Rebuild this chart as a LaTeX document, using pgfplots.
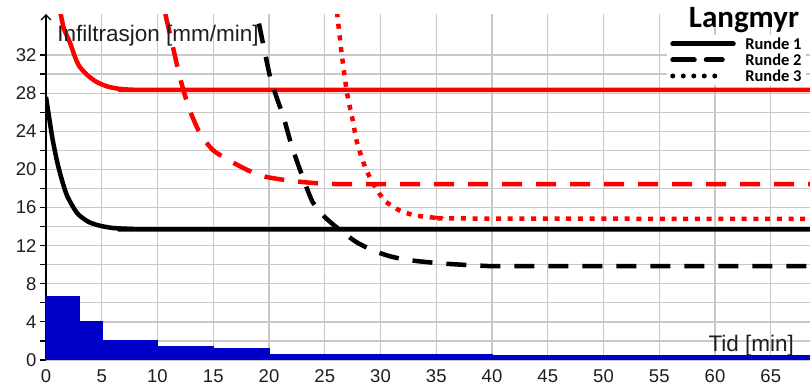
\documentclass[border=0pt]{standalone}
\usepackage{pgfplots}
\pgfplotsset{compat=1.18}
\usepackage{fontspec}
\setmainfont{Liberation Sans}
\newfontfamily\carlito{Carlito}
\usetikzlibrary{arrows.meta}
\definecolor{gridgray}{RGB}{200,200,200}
\definecolor{barblue}{RGB}{0,0,200}
\definecolor{labelgray}{RGB}{30,30,30}

\begin{document}
\begin{tikzpicture}
\begin{axis}[
  x=11.15pt, y=9.53pt,
  xmin=0, xmax=68.7, ymin=0, ymax=36.3,
  axis x line*=bottom, axis y line=left,
  x axis line style={draw=none},
  y axis line style={line width=1.3pt, -{Straight Barb[length=5pt,width=10pt]}},
  xtick={0,5,...,65}, ytick={0,4,...,32}, minor y tick num=1,
  grid=both,
  major grid style={gridgray, line width=1.3pt},
  minor grid style={gridgray, line width=1.3pt},
  tick style={black, line width=1.2pt},
  major tick length=6pt, minor tick length=6pt,
  tick align=outside,
  xtick style={draw=none},
  ticklabel style={font=\fontsize{18.5}{18.5}\selectfont, text=labelgray},
  /pgf/number format/assume math mode=true,
  clip mode=individual,
  legend image code/.code={\draw[#1] (2.5pt,0pt) -- (63pt,0pt);
    \path[draw=none] (0pt,0pt) -- (74pt,0pt);},
  legend style={at={(axis cs:55.7,34.1)}, anchor=north west, fill=white, draw=none,
    font=\carlito\bfseries\fontsize{16.5}{16.5}\selectfont,
    row sep=2.5pt, column sep=0pt,
    nodes={inner sep=1pt, text height=11.5pt, text depth=0pt}},
  legend cell align=left,
]
% rainfall intensity steps
\addplot[fill=barblue, draw=barblue, line width=1.5pt, forget plot] coordinates {
  (0,0) (0,6.6) (3,6.6) (3,4.0) (5,4.0) (5,2.0) (10,2.0) (10,1.35) (15,1.35)
  (15,1.15) (20,1.15) (20,0.6) (40,0.6) (40,0.45) (68.7,0.45) (68.7,0)} -- cycle;

% infiltration curves
\addplot[red, line width=4.5pt, smooth, tension=0.4, forget plot] coordinates {
  (1.0,39) (1.26,36.7) (1.6,34.8) (2.15,33.3) (2.6,31.8) (3.0,30.8) (3.7,29.9)
  (4.5,29.2) (5.5,28.7) (6.6,28.45) (8,28.35) (10,28.35) (68.7,28.35)};
\addplot[black, line width=4.5pt, smooth, tension=0.4, forget plot] coordinates {
  (0,27.6) (0.3,25.3) (0.6,23.1) (1.0,20.8) (1.4,19.0) (1.9,17.2) (2.8,15.4)
  (3.8,14.5) (4.8,14.1) (6,13.85) (7.8,13.75) (10,13.7) (68.7,13.7)};
\addplot[red, line width=4.5pt, dash pattern=on 20pt off 14pt, smooth, tension=0.4, forget plot] coordinates {
  (10.7,36.3) (11.2,33.8) (12.0,29.7) (12.8,26.5) (13.8,23.8) (15.0,22.0)
  (16.8,20.7) (18.5,19.7) (19.8,19.2) (22,18.8) (25,18.5) (30,18.45) (68.7,18.45)};
\addplot[black, line width=4.5pt, dash pattern=on 20pt off 14pt, smooth, tension=0.4, forget plot] coordinates {
  (19.1,35.3) (19.5,33.0) (20.1,29.7) (20.7,27.5) (21.3,25.5) (22.0,22.6)
  (22.8,19.9) (23.9,16.6) (25.0,15.0) (26.4,13.6) (27.8,12.4) (29.3,11.5)
  (30.8,10.9) (32.4,10.5) (35.3,10.15) (38.9,9.9) (42,9.85) (68.7,9.85)};
\addplot[red, line width=4.5pt, dash pattern=on 5pt off 6.7pt, smooth, tension=0.4, forget plot] coordinates {
  (26.1,36.5) (26.5,32.3) (27.0,28.0) (27.5,25.2) (27.9,22.8) (28.7,20.0)
  (29.7,17.8) (30.5,16.6) (31.7,15.7) (33,15.2) (34.7,14.95) (37,14.85) (68.7,14.8)};

\addlegendimage{black, line width=5pt, line cap=round}
\addlegendentry{Runde 1}
\addlegendimage{legend image code/.code={
  \draw[black, line width=5pt, line cap=round] (2.5pt,0pt) -- (24pt,0pt) (36pt,0pt) -- (52pt,0pt);
  \path[draw=none] (0pt,0pt) -- (74pt,0pt);}}
\addlegendentry{Runde 2}
\addlegendimage{legend image code/.code={
  \draw[black, line width=5pt, line cap=round, dash pattern=on 0pt off 10.5pt] (2.5pt,0pt) -- (46pt,0pt);
  \path[draw=none] (0pt,0pt) -- (74pt,0pt);}}
\addlegendentry{Runde 3}

\node[anchor=base west, font=\fontsize{22.5}{22.5}\selectfont, text=labelgray]
  at (axis cs:0.7,33.4) {Infiltrasjon [mm/min]};
\node[anchor=base east, font=\fontsize{22.5}{22.5}\selectfont, text=labelgray]
  at (axis cs:67.4,0.9) {Tid [min]};
\node[anchor=base, font=\carlito\bfseries\fontsize{31}{31}\selectfont]
  at (axis cs:62.6,34.84) {Langmyr};
\end{axis}
\pgfresetboundingbox
\useasboundingbox (-46pt,-30pt) rectangle (764pt,360pt);
\end{tikzpicture}
\end{document}
